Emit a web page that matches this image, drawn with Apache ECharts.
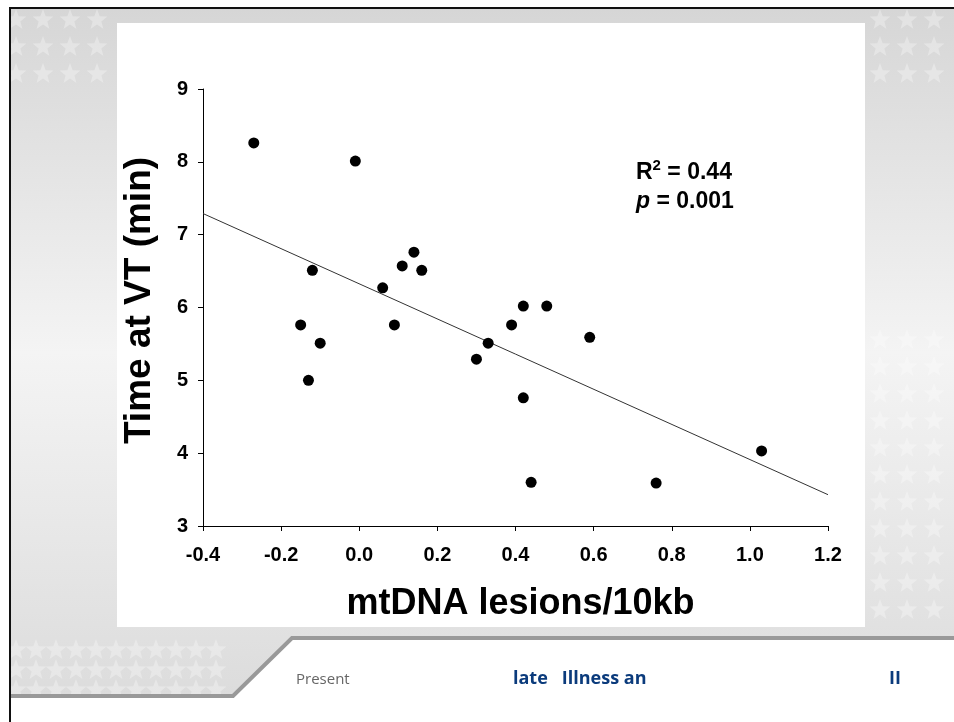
<!DOCTYPE html>
<html>
<head>
<meta charset="utf-8">
<script src="https://cdn.jsdelivr.net/npm/echarts@6/dist/echarts.min.js"></script>
<style>
    html, body { margin: 0; padding: 0; background: #fff; }
    #chart { width: 954px; height: 722px; }
</style>
</head>
<body>
<div id="chart"></div>
<script>
// 线粒体DNA损伤 vs VT时间
var lesions = [-0.27, -0.01, 0.14, 0.11, 0.16, -0.12, 0.06, -0.15, 0.09, -0.10, -0.13,
    0.42, 0.48, 0.39, 0.33, 0.30, 0.59, 0.42, 0.44, 0.76, 1.03];
var timeAtVT = [8.26, 8.01, 6.76, 6.57, 6.51, 6.51, 6.27, 5.76, 5.76, 5.51, 5.00,
    6.02, 6.02, 5.76, 5.51, 5.29, 5.59, 4.76, 3.60, 3.59, 4.03];
var fitX = [-0.4, 1.2];
var fitY = [7.29, 3.43];
var statLines = ['R{sup|2} = 0.44', '{it|p} = 0.001'];
var footerTexts = ['Present', 'late   Illness an', 'II'];

var chart = echarts.init(document.getElementById('chart'));

// 背景里的星星
function starPoints(cx, cy, r) {
    var pts = [];
    for (var i = 0; i < 10; i++) {
        var rr = i % 2 === 0 ? r : r * 0.42;
        var a = -Math.PI / 2 + i * Math.PI / 5;
        pts.push([cx + rr * Math.cos(a), cy + rr * Math.sin(a)]);
    }
    return pts;
}
var stars = [];
function addStars(x0, x1, y0, y1, step) {
    for (var y = y0; y <= y1; y += step) {
        for (var x = x0; x <= x1; x += step) {
            stars.push({
                type: 'polygon',
                z: -90,
                silent: true,
                shape: { points: starPoints(x, y, 11) },
                style: { fill: 'rgba(255,255,255,0.3)' }
            });
        }
    }
}
addStars(16, 110, 20, 100, 27);
addStars(16, 230, 650, 690, 20);
addStars(880, 954, 20, 80, 27);
addStars(880, 954, 340, 620, 27);

var bgGradient = new echarts.graphic.LinearGradient(0, 0, 0, 1, [
    { offset: 0, color: '#d6d6d6' },
    { offset: 0.5, color: '#f4f4f4' },
    { offset: 1, color: '#dcdcdc' }
]);

var graphics = [
    {
        type: 'polygon', z: -100, silent: true,
        shape: { points: [[11, 9], [954, 9], [954, 637], [292, 637], [233, 696], [11, 696]] },
        style: { fill: bgGradient }
    }
].concat(stars).concat([
    {
        type: 'polyline', z: -80, silent: true,
        shape: { points: [[954, 638], [292, 638], [233, 696], [11, 696]] },
        style: { stroke: '#999', lineWidth: 4, fill: null }
    },
    {
        type: 'rect', z: -70, silent: true,
        shape: { x: 117, y: 23, width: 748, height: 604 },
        style: { fill: '#fff' }
    },
    {
        type: 'line', z: -60, silent: true,
        shape: { x1: 9, y1: 8, x2: 954, y2: 8 },
        style: { stroke: '#111', lineWidth: 2 }
    },
    {
        type: 'line', z: -60, silent: true,
        shape: { x1: 10, y1: 7, x2: 10, y2: 722 },
        style: { stroke: '#111', lineWidth: 2 }
    },
    {
        type: 'text', z: 100, left: 636, top: 158,
        style: {
            text: statLines.join('\n'),
            fontFamily: 'Liberation Sans',
            fontSize: 23,
            fontWeight: 'bold',
            fill: '#000',
            lineHeight: 29,
            rich: {
                sup: { fontSize: 15, fontWeight: 'bold', verticalAlign: 'top', padding: [0, 0, 8, 0], fontFamily: 'Liberation Sans' },
                it: { fontSize: 23, fontWeight: 'bold', fontStyle: 'italic', fontFamily: 'Liberation Sans' }
            }
        }
    },
    {
        type: 'text', left: 296, top: 672,
        style: { text: footerTexts[0], fontFamily: 'Open Sans', fontSize: 15, fill: '#666' }
    },
    {
        type: 'text', left: 513, top: 670,
        style: { text: footerTexts[1], fontFamily: 'Open Sans', fontSize: 18, fontWeight: 'bold', fill: '#0b3b7c' }
    },
    {
        type: 'text', left: 889, top: 670,
        style: { text: footerTexts[2], fontFamily: 'Open Sans', fontSize: 18, fontWeight: 'bold', fill: '#0b3b7c' }
    }
]);

var labelStyle = {
    fontFamily: 'Liberation Sans',
    fontSize: 20,
    fontWeight: 'bold',
    color: '#000'
};

var option = {
    animation: false,
    backgroundColor: '#fff',
    grid: { left: 203, right: 126, top: 89, bottom: 196 },
    xAxis: {
        type: 'value',
        min: -0.4,
        max: 1.2,
        interval: 0.2,
        name: 'mtDNA lesions/10kb',
        nameLocation: 'middle',
        nameGap: 60,
        nameTextStyle: { fontFamily: 'Liberation Sans', fontSize: 36, fontWeight: 'bold', color: '#000', padding: [0, 0, 0, 10] },
        axisLine: { onZero: false, lineStyle: { color: '#000', width: 1 } },
        axisTick: { length: 5, lineStyle: { color: '#000' } },
        axisLabel: Object.assign({ margin: 19, formatter: function(v) { return v.toFixed(1); } }, labelStyle),
        splitLine: { show: false }
    },
    yAxis: {
        type: 'value',
        min: 3,
        max: 9,
        interval: 1,
        name: 'Time at VT (min)',
        nameLocation: 'middle',
        nameGap: 45,
        nameTextStyle: { fontFamily: 'Liberation Sans', fontSize: 37, fontWeight: 'bold', color: '#000', padding: [0, 0, 0, 14] },
        axisLine: { show: true, onZero: false, lineStyle: { color: '#000', width: 1 } },
        axisTick: { show: true, length: 5, lineStyle: { color: '#000' } },
        axisLabel: Object.assign({ margin: 15 }, labelStyle),
        splitLine: { show: false }
    },
    graphic: graphics,
    series: [
        {
            type: 'scatter',
            data: lesions.map(function(x, i) { return [x, timeAtVT[i]]; }),
            symbol: 'circle',
            symbolSize: 11,
            itemStyle: { color: '#000', opacity: 1 },
            z: 5
        },
        {
            type: 'line',
            data: fitX.map(function(x, i) { return [x, fitY[i]]; }),
            showSymbol: false,
            lineStyle: { color: '#333', width: 1 },
            z: 4
        }
    ]
};
chart.setOption(option);
</script>
</body>
</html>
